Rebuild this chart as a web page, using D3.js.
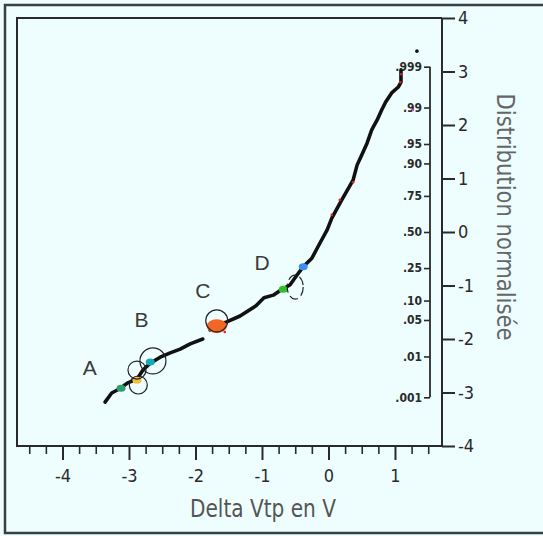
<!DOCTYPE html>
<html><head><meta charset="utf-8">
<script src="https://cdn.jsdelivr.net/npm/d3@7"></script>
<style>html,body{margin:0;padding:0;background:#eefefe;overflow:hidden;} svg{display:block;}</style>
</head><body>
<script>
// ---- data (Delta Vtp in V, normal score z) ----
const lowerX = [-3.36,-3.26,-3.14,-3.02,-2.88,-2.79,-2.68,-2.53,-2.38,-2.23,-2.08,-1.89];
const lowerZ = [-3.18,-3.01,-2.93,-2.82,-2.75,-2.58,-2.45,-2.34,-2.26,-2.19,-2.09,-2.00];
const upperX = [-1.78,-1.68,-1.53,-1.33,-1.09,-0.97,-0.83,-0.71,-0.58,-0.47,-0.38,-0.25,-0.13,-0.02,0.05,0.20,0.37,0.43,0.50,0.58,0.65,0.73,0.80,0.86,0.95,1.05,1.09,1.09];
const upperZ = [-1.83,-1.74,-1.68,-1.57,-1.38,-1.23,-1.18,-1.08,-0.99,-0.80,-0.65,-0.49,-0.21,0.04,0.26,0.60,0.97,1.25,1.44,1.66,1.91,2.09,2.28,2.43,2.60,2.71,2.80,3.03];
const outlierX = [1.33];
const outlierZ = [3.38];
const markerX = [-1.68,-2.68,-2.88,-3.12,-0.38,-0.68];
const markerZ = [-1.76,-2.43,-2.77,-2.92,-0.65,-1.07];
const markerColor = ["#f26522","#12a9b8","#f2c037","#2e9e6a","#3a8ff0","#2fbf2f"];
const speckX = [0.37,0.17,0.05,1.09,1.08,1.27,-1.56];
const speckZ = [0.93,0.60,0.32,2.95,2.80,2.28,-1.87];
const circleX = [-2.64,-2.88,-2.86,-1.68];
const circleZ = [-2.41,-2.58,-2.86,-1.66];
const dashedX = [-0.50];
const dashedZ = [-1.03];
const groupLabels = ["A","B","C","D"];
const groupX = [-3.59,-2.81,-1.89,-1.00];
const groupZ = [-2.54,-1.63,-1.10,-0.56];
const xMajorTicks = [-4,-3,-2,-1,0,1];
const xMinorTicks = [-4.5,-4.25,-3.75,-3.5,-3.25,-2.75,-2.5,-2.25,-1.75,-1.5,-1.25,-0.75,-0.5,-0.25,0.25,0.5,0.75,1.25,1.5];
const zTicks = [4,3,2,1,0,-1,-2,-3,-4];
const probTicks = [0.999,0.99,0.95,0.90,0.75,0.50,0.25,0.10,0.05,0.01,0.001];
const probLabels = [".999",".99",".95",".90",".75",".50",".25",".10",".05",".01",".001"];
const xTitle = "Delta Vtp en V";
const yTitle = "Distribution normalisée";

// inverse normal CDF (Acklam)
function probit(p){
  const a=[-3.969683028665376e+01,2.209460984245205e+02,-2.759285104469687e+02,1.383577518672690e+02,-3.066479806614716e+01,2.506628277459239e+00];
  const b=[-5.447609879822406e+01,1.615858368580409e+02,-1.556989798598866e+02,6.680131188771972e+01,-1.328068155288572e+01];
  const c=[-7.784894002430293e-03,-3.223964580411365e-01,-2.400758277161838e+00,-2.549732539343734e+00,4.374664141464968e+00,2.938163982698783e+00];
  const d=[7.784695709041462e-03,3.224671290700398e-01,2.445134137142996e+00,3.754408661907416e+00];
  const pl=0.02425, ph=1-pl; let q,r;
  if(p<pl){q=Math.sqrt(-2*Math.log(p));return (((((c[0]*q+c[1])*q+c[2])*q+c[3])*q+c[4])*q+c[5])/((((d[0]*q+d[1])*q+d[2])*q+d[3])*q+1);}
  if(p<=ph){q=p-0.5;r=q*q;return (((((a[0]*r+a[1])*r+a[2])*r+a[3])*r+a[4])*r+a[5])*q/(((((b[0]*r+b[1])*r+b[2])*r+b[3])*r+b[4])*r+1);}
  q=Math.sqrt(-2*Math.log(1-p));return -(((((c[0]*q+c[1])*q+c[2])*q+c[3])*q+c[4])*q+c[5])/((((d[0]*q+d[1])*q+d[2])*q+d[3])*q+1);
}

const W=543,H=536;
const L=17,T=18,R=442,B=446;
const narrow = "'Liberation Sans Narrow','DejaVu Sans Condensed','Arial Narrow',sans-serif";
const ink="#2a2a2a";

const svg=d3.select("body").append("svg").attr("width",W).attr("height",H);
svg.append("rect").attr("width",W).attr("height",H).attr("fill","#eefefe");
// outer border
svg.append("rect").attr("x",5).attr("y",5).attr("width",W+10).attr("height",528)
  .attr("fill","none").attr("stroke","#3a3f44").attr("stroke-width",2.5);

const x=d3.scaleLinear().domain([-4.684,1.707]).range([L,R]);
const y=d3.scaleLinear().domain([-4,4]).range([B,T]);

// frame
svg.append("path").attr("d",`M${R},${T}H${L}V${B}H${R}`).attr("fill","none").attr("stroke",ink).attr("stroke-width",2);

// x axis minor
svg.append("g").attr("transform",`translate(0,${B})`)
  .call(d3.axisBottom(x).tickValues(xMinorTicks).tickSize(8).tickFormat(""))
  .call(g=>{g.select(".domain").remove();g.selectAll("line").attr("stroke",ink).attr("stroke-width",1.6);});
// x axis major
svg.append("g").attr("transform",`translate(0,${B})`)
  .call(d3.axisBottom(x).tickValues(xMajorTicks).tickSize(14).tickPadding(9).tickFormat(d=>d))
  .call(g=>{g.select(".domain").remove();g.selectAll("line").attr("stroke",ink).attr("stroke-width",2);
    g.selectAll("text").attr("font-family",narrow).attr("font-size",18).attr("fill",ink);});

// right z axis
svg.append("g").attr("transform",`translate(${R},0)`)
  .call(d3.axisRight(y).tickValues(zTicks).tickSize(13).tickPadding(3).tickFormat(d=>d))
  .call(g=>{g.select(".domain").attr("stroke",ink).attr("stroke-width",2).attr("d",`M0,${T}V${B}`);
    g.selectAll("line").attr("stroke",ink).attr("stroke-width",2);
    g.selectAll("text").attr("font-family",narrow).attr("font-size",18).attr("fill",ink);});

// probability axis (inner)
const probZ = probTicks.map(probit);
svg.append("g").attr("transform",`translate(430,0)`)
  .call(d3.axisLeft(y).tickValues(probZ).tickSize(6).tickPadding(2).tickFormat((d,i)=>probLabels[i]))
  .call(g=>{g.select(".domain").attr("stroke",ink).attr("stroke-width",1.8)
      .attr("d",`M0,${y(probZ[0])}V${y(probZ[probZ.length-1])}`);
    g.selectAll("line").attr("stroke",ink).attr("stroke-width",1.6);
    g.selectAll("text").attr("font-family",narrow).attr("font-size",12).attr("font-weight","bold").attr("fill",ink);});

// titles
svg.append("text").attr("x",263).attr("y",517).attr("text-anchor","middle")
  .attr("font-family",narrow).attr("font-size",25).attr("fill","#555")
  .attr("textLength",146).attr("lengthAdjust","spacingAndGlyphs").text(xTitle);
svg.append("text").attr("transform","translate(497,217) rotate(90)").attr("text-anchor","middle")
  .attr("font-family",narrow).attr("font-size",25).attr("fill","#666")
  .attr("textLength",247).attr("lengthAdjust","spacingAndGlyphs").text(yTitle);

// curve
const line=d3.line().x(d=>x(d[0])).y(d=>y(d[1]));
const plot=svg.append("g");
[[lowerX,lowerZ],[upperX,upperZ]].forEach(([xs,zs])=>{
  plot.append("path").attr("d",line(xs.map((v,i)=>[v,zs[i]])))
    .attr("fill","none").attr("stroke","#111").attr("stroke-width",3.6)
    .attr("stroke-linejoin","round").attr("stroke-linecap","round");
});
plot.selectAll(".out").data(outlierX).join("circle").attr("cx",d=>x(d)).attr("cy",(d,i)=>y(outlierZ[i])).attr("r",1.8).attr("fill","#111");

// coloured group markers
plot.selectAll(".mk").data(markerX).join("ellipse")
  .attr("cx",d=>x(d)).attr("cy",(d,i)=>y(markerZ[i]))
  .attr("rx",(d,i)=>i===0?10:4.5).attr("ry",(d,i)=>i===0?7:3.5)
  .attr("fill",(d,i)=>markerColor[i]);
plot.selectAll(".sp").data(speckX).join("circle")
  .attr("cx",d=>x(d)).attr("cy",(d,i)=>y(speckZ[i])).attr("r",1.3)
  .attr("fill",(d,i)=>i===5?"#d040c0":"#e02020");

// circles
const circleR=[13,9,9,11];
plot.selectAll(".ci").data(circleX).join("circle")
  .attr("cx",d=>x(d)).attr("cy",(d,i)=>y(circleZ[i])).attr("r",(d,i)=>circleR[i])
  .attr("fill","none").attr("stroke","#222").attr("stroke-width",1.2);
plot.selectAll(".de").data(dashedX).join("ellipse")
  .attr("cx",d=>x(d)).attr("cy",(d,i)=>y(dashedZ[i])).attr("rx",8).attr("ry",12)
  .attr("fill","none").attr("stroke","#222").attr("stroke-width",1.2).attr("stroke-dasharray","9,4");

// group letters
svg.selectAll(".lb").data(groupLabels).join("text")
  .attr("x",(d,i)=>x(groupX[i])).attr("y",(d,i)=>y(groupZ[i])).attr("dy","0.36em")
  .attr("text-anchor","middle").attr("font-family","'Liberation Sans',Arial,sans-serif")
  .attr("font-size",21).attr("fill","#3a3a3a").text(d=>d);
</script>
</body></html>
